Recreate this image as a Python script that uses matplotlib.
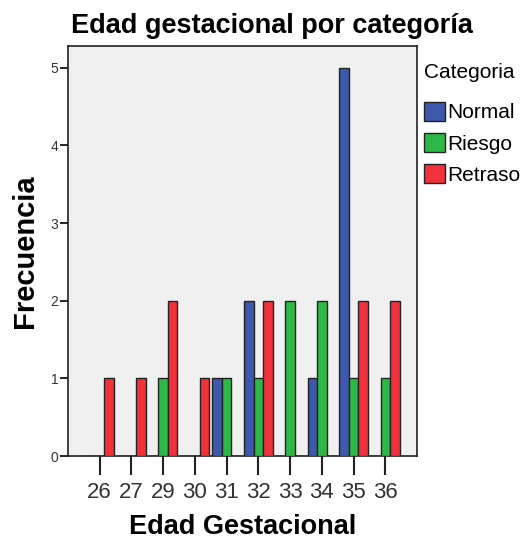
import numpy as np
import matplotlib
matplotlib.use("Agg")
import matplotlib.pyplot as plt
from matplotlib.patches import Patch

plt.rcParams['font.family'] = ['Liberation Sans', 'DejaVu Sans']

# data
edades = ["26", "27", "29", "30", "31", "32", "33", "34", "35", "36"]
normal = [0, 0, 0, 0, 1, 2, 0, 1, 5, 0]
riesgo = [0, 0, 1, 0, 1, 1, 2, 2, 1, 1]
retraso = [1, 1, 2, 1, 0, 2, 0, 0, 2, 2]
series = ["Normal", "Riesgo", "Retraso"]
colores = ["#3E58AC", "#2EB848", "#F0323C"]

fig = plt.figure(figsize=(5.29, 5.46), dpi=100)
ax = fig.add_axes([68 / 529, 1 - 456 / 546, 349 / 529, 410 / 546])
ax.set_facecolor("#F0F0F0")

x = np.arange(len(edades))
w = 0.3
for k, (vals, col) in enumerate(zip([normal, riesgo, retraso], colores)):
    ax.bar(x + (k - 1) * w, vals, width=w, color=col, edgecolor="#222222",
           linewidth=1, zorder=3)

ax.set_xlim(-1, 10)
ax.set_ylim(0, 5.28)
ax.set_xticks(x)
ax.set_xticklabels(edades, fontsize=16)
ax.set_yticks(range(6))
ax.tick_params(axis="y", labelsize=10, length=6, width=1.2, pad=1,
               labelcolor="#333333")
ax.tick_params(axis="x", length=14, width=1.5, pad=5, colors="#222222",
               labelcolor="#333333")
for s in ax.spines.values():
    s.set_linewidth(1.2)
    s.set_color("#222222")

ax.set_xlabel("Edad Gestacional", fontsize=19.5, fontweight="bold", labelpad=8)
fig.text(25 / 529, 1 - 251 / 546, "Frecuencia", fontsize=21,
         fontweight="bold", rotation=90, ha="center", va="center")
fig.text(272 / 529, 1 - 26 / 546, "Edad gestacional por categoría",
         fontsize=19.5, fontweight="bold", ha="center", va="center")

handles = [Patch(facecolor=c, edgecolor="#222222", linewidth=1) for c in colores]
leg = fig.legend(handles, series, title="Categoria", loc="upper left",
                 bbox_to_anchor=(420 / 529, 1 - 59 / 546), frameon=False,
                 fontsize=15, title_fontsize=15, handlelength=1.0,
                 handleheight=1.05, handletextpad=0.1, labelspacing=0.5,
                 borderaxespad=0, borderpad=0.2)
leg._legend_box.align = "left"
leg._legend_box.sep = 14

fig.savefig("out.png", dpi=100)
